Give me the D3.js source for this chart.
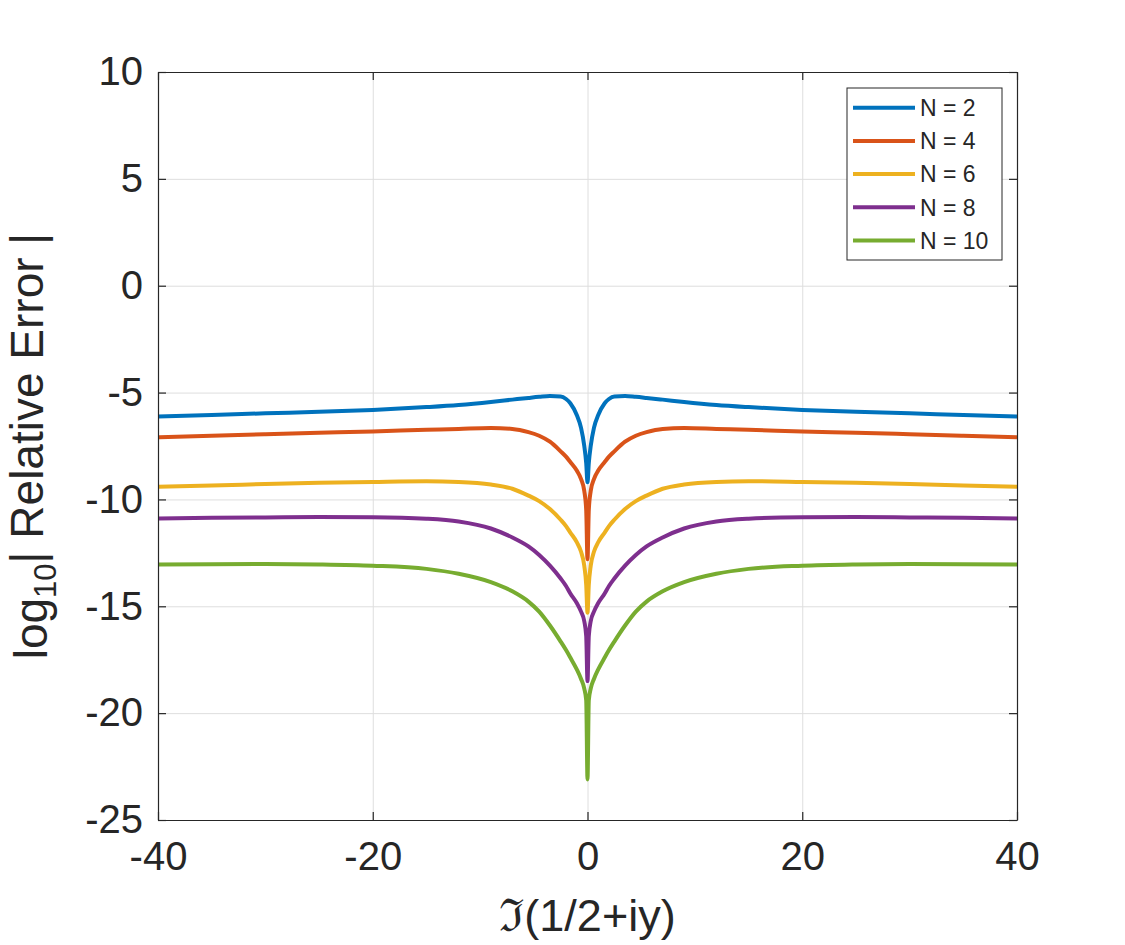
<!DOCTYPE html>
<html>
<head>
<meta charset="utf-8">
<script src="https://cdn.jsdelivr.net/npm/d3@7"></script>
<style>
  body { margin: 0; background: #ffffff; }
  svg { display: block; }
  text { font-family: "Liberation Sans", Arial, sans-serif; fill: #262626; }
</style>
</head>
<body>
<div id="chart"></div>
<script>
// Sampling positions along Im(1/2+iy)
const yPoints = [-40, -35, -30, -25, -20, -15, -12, -9, -7, -5.5, -4.5, -3.5, -2.5, -2, -1.6, -1, -0.6, -0.3, -0.12, 0,
                 0.12, 0.3, 0.6, 1, 1.6, 2, 2.5, 3.5, 4.5, 5.5, 7, 9, 12, 15, 20, 25, 30, 35, 40];

// log10 |relative error|
const errN2  = [-6.12, -6.05, -5.97, -5.9, -5.81, -5.68, -5.58, -5.44, -5.33, -5.25, -5.2, -5.16, -5.18, -5.3, -5.5, -6.05, -6.65, -7.5, -8.3, -9.2,
                -8.3, -7.5, -6.65, -6.05, -5.5, -5.3, -5.18, -5.16, -5.2, -5.25, -5.33, -5.44, -5.58, -5.68, -5.81, -5.9, -5.97, -6.05, -6.12];
const errN4  = [-7.09, -7.02, -6.95, -6.88, -6.82, -6.74, -6.7, -6.66, -6.7, -6.85, -7.02, -7.3, -7.75, -8.0, -8.25, -8.65, -9.05, -9.6, -10.5, -12.8,
                -10.5, -9.6, -9.05, -8.65, -8.25, -8.0, -7.75, -7.3, -7.02, -6.85, -6.7, -6.66, -6.7, -6.74, -6.82, -6.88, -6.95, -7.02, -7.09];
const errN6  = [-9.41, -9.35, -9.28, -9.22, -9.18, -9.15, -9.18, -9.3, -9.5, -9.82, -10.08, -10.45, -10.95, -11.25, -11.55, -12.0, -12.45, -13.1, -14.0, -15.3,
                -14.0, -13.1, -12.45, -12.0, -11.55, -11.25, -10.95, -10.45, -10.08, -9.82, -9.5, -9.3, -9.18, -9.15, -9.18, -9.22, -9.28, -9.35, -9.41];
const errN8  = [-10.89, -10.86, -10.84, -10.82, -10.83, -10.9, -11.03, -11.36, -11.78, -12.2, -12.6, -13.1, -13.7, -14.05, -14.4, -14.85, -15.25, -15.7, -16.4, -18.5,
                -16.4, -15.7, -15.25, -14.85, -14.4, -14.05, -13.7, -13.1, -12.6, -12.2, -11.78, -11.36, -11.03, -10.9, -10.83, -10.82, -10.84, -10.86, -10.89];
const errN10 = [-13.05, -13.03, -13.02, -13.04, -13.1, -13.25, -13.48, -13.87, -14.3, -14.78, -15.25, -15.9, -16.65, -17.05, -17.4, -17.95, -18.4, -18.85, -19.4, -23.1,
                -19.4, -18.85, -18.4, -17.95, -17.4, -17.05, -16.65, -15.9, -15.25, -14.78, -14.3, -13.87, -13.48, -13.25, -13.1, -13.04, -13.02, -13.03, -13.05];

const seriesNames = ["N = 2", "N = 4", "N = 6", "N = 8", "N = 10"];
const seriesColors = ["#0072BD", "#D95319", "#EDB120", "#7E2F8E", "#77AC30"];
const xTicks = [-40, -20, 0, 20, 40];
const yTicks = [-25, -20, -15, -10, -5, 0, 5, 10];

const allSeries = [errN2, errN4, errN6, errN8, errN10];

const width = 1125, height = 945;
const margin = { top: 72, right: 108, bottom: 125, left: 158 };
const plotW = width - margin.left - margin.right;
const plotH = height - margin.top - margin.bottom;

const svg = d3.select("#chart").append("svg")
    .attr("width", width)
    .attr("height", height)
    .style("background", "#ffffff");

const g = svg.append("g")
    .attr("transform", `translate(${margin.left},${margin.top})`);

// Scales
const x = d3.scaleLinear().domain([-40, 40]).range([0, plotW]);
const y = d3.scaleLinear().domain([-25, 10]).range([plotH, 0]);

// Grid
g.append("g")
    .call(d3.axisBottom(x).tickValues(xTicks).tickSize(plotH).tickFormat(""))
    .call(a => a.select(".domain").remove())
    .selectAll("line").attr("stroke", "#dedede").attr("stroke-width", 1);

g.append("g")
    .call(d3.axisLeft(y).tickValues(yTicks).tickSize(-plotW).tickFormat(""))
    .call(a => a.select(".domain").remove())
    .selectAll("line").attr("stroke", "#dedede").attr("stroke-width", 1);

// Curves
g.append("clipPath").attr("id", "clip")
    .append("rect").attr("width", plotW).attr("height", plotH);

const line = d3.line()
    .x((d, i) => x(yPoints[i]))
    .y(d => y(d))
    .curve(d3.curveMonotoneX);

g.append("g").attr("clip-path", "url(#clip)")
    .selectAll("path")
    .data(allSeries)
    .enter()
    .append("path")
    .attr("fill", "none")
    .attr("stroke", (d, i) => seriesColors[i])
    .attr("stroke-width", 4)
    .attr("stroke-linejoin", "round")
    .attr("d", line);

// Axes (box with inward ticks on all sides)
const tickLen = 8;
const fontTick = 40;
const fmt = d => String(d);   // plain hyphen minus like the original

const axB = g.append("g")
    .attr("transform", `translate(0,${plotH})`)
    .call(d3.axisBottom(x).tickValues(xTicks).tickSizeInner(-tickLen).tickSizeOuter(0).tickPadding(22)
        .tickFormat(fmt));
axB.selectAll("text").style("font-size", fontTick + "px").attr("dy", "0.71em");

const axT = g.append("g")
    .call(d3.axisTop(x).tickValues(xTicks).tickSizeInner(-tickLen).tickSizeOuter(0).tickFormat(""));

const axL = g.append("g")
    .call(d3.axisLeft(y).tickValues(yTicks).tickSizeInner(-tickLen).tickSizeOuter(0).tickPadding(15)
        .tickFormat(fmt));
axL.selectAll("text").style("font-size", fontTick + "px");

const axR = g.append("g")
    .attr("transform", `translate(${plotW},0)`)
    .call(d3.axisRight(y).tickValues(yTicks).tickSizeInner(-tickLen).tickSizeOuter(0).tickFormat(""));

[axB, axT, axL, axR].forEach(a => {
    a.select(".domain").attr("stroke", "#262626").attr("stroke-width", 1.2);
    a.selectAll(".tick line").attr("stroke", "#262626").attr("stroke-width", 1.2);
    a.selectAll("text").style("fill", "#262626").style("font-family", "'Liberation Sans', Arial, sans-serif");
});

// Axis labels
svg.append("text")
    .attr("x", margin.left + plotW / 2)
    .attr("y", 931)
    .attr("text-anchor", "middle")
    .style("font-size", "45px")
    .text("ℑ(1/2+iy)");

const yl = svg.append("text")
    .attr("transform", `translate(47,${margin.top + plotH / 2}) rotate(-90)`)
    .attr("text-anchor", "middle")
    .style("font-size", "46px");
yl.append("tspan").text("log");
yl.append("tspan").attr("dy", "0.3em").style("font-size", "31px").text("10");
yl.append("tspan").attr("dy", "-0.3em").text("| Relative Error |");

// Legend
const legend = svg.append("g").attr("transform", "translate(847,88)");
legend.append("rect")
    .attr("width", 155).attr("height", 172)
    .attr("fill", "#ffffff").attr("stroke", "#262626").attr("stroke-width", 1);

const items = legend.selectAll("g.item")
    .data(seriesNames)
    .enter()
    .append("g")
    .attr("class", "item")
    .attr("transform", (d, i) => `translate(0,${19.7 + i * 33.2})`);

items.append("line")
    .attr("x1", 6).attr("x2", 68)
    .attr("stroke", (d, i) => seriesColors[i])
    .attr("stroke-width", 4);

items.append("text")
    .attr("x", 73)
    .attr("dy", "0.36em")
    .style("font-size", "23px")
    .text(d => d);
</script>
</body>
</html>
